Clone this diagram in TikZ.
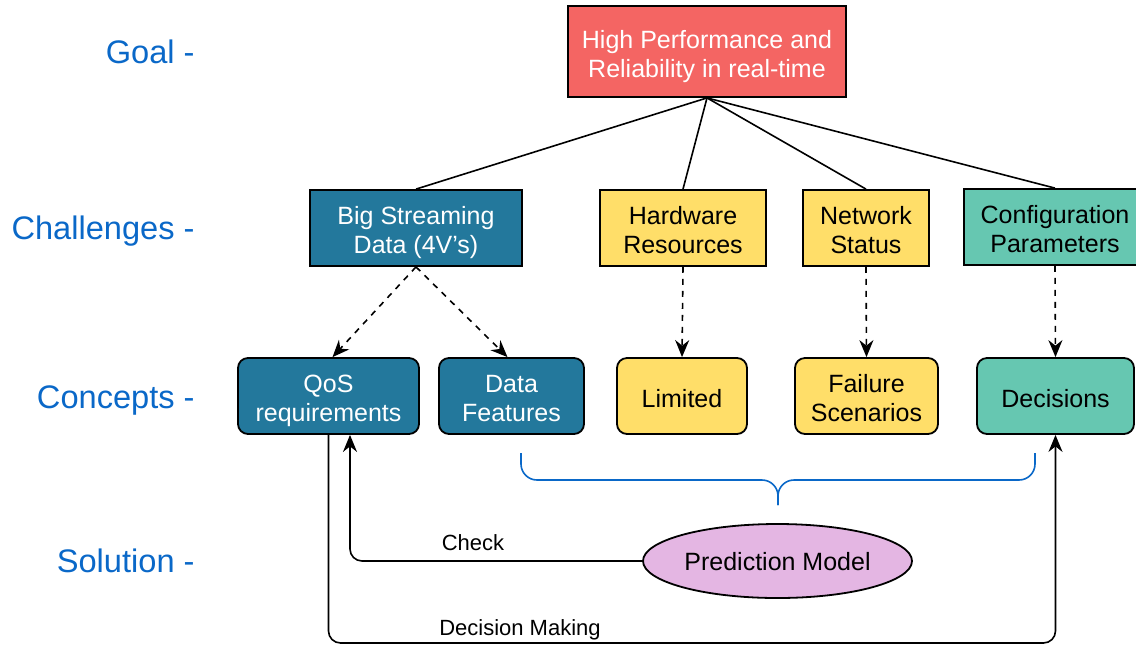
\documentclass[tikz,border=0pt]{standalone}
\usepackage{fontspec}
\setmainfont{Liberation Sans}
\usetikzlibrary{arrows.meta,shapes.geometric}

\definecolor{goalred}{HTML}{F46563}
\definecolor{bigblue}{HTML}{23789C}
\definecolor{hwyellow}{HTML}{FFDE69}
\definecolor{cfggreen}{HTML}{66C7B1}
\definecolor{predpink}{HTML}{E4B6E3}
\definecolor{lvlblue}{HTML}{0A68C8}

\tikzset{
  box/.style={draw=black, line width=0.9pt, align=center, inner sep=0pt,
    minimum height=38pt, font=\fontsize{12.5}{14.5}\selectfont,
    text height=25pt, text depth=0pt},
  oneline/.style={text height=11pt},
  concept/.style={box, rounded corners=5pt},
  level/.style={anchor=base east, inner sep=0pt, text=lvlblue, font=\fontsize{16.3}{19}\selectfont},
  dasharrow/.style={line width=0.8pt, dash pattern=on 3pt off 3pt, -{Stealth[length=8.5pt,width=7pt]}},
  solarrow/.style={line width=0.8pt, rounded corners=6pt, -{Stealth[length=8.5pt,width=7pt]}},
  edgelabel/.style={font=\fontsize{11}{13}\selectfont}
}

\begin{document}
\begin{tikzpicture}[x=0.5pt, y=-0.5pt]
		%%%%% START %%%%%
		\useasboundingbox (0, 0) rectangle (1136, 645);
		
		% level labels
		\node[level] (lgoal) at (195, 63.5) {Goal -};
		\node[level] (lchal) at (195, 239.5) {Challenges -};
		\node[level] (lconc) at (195, 408.5) {Concepts -};
		\node[level] (lsol) at (195, 572.5) {Solution -};
		
		% goal
		\node[box, fill=goalred, text=white, minimum width=139pt, minimum height=45.5pt, text height=25.5pt] (goal) at (707, 51.5) {High Performance and\\Reliability in real-time};
		
		% challenges
		\node[box, fill=bigblue, text=white, minimum width=106pt] (bsd) at (416, 228) {Big Streaming\\Data (4V's)};
		\node[box, fill=hwyellow, minimum width=83pt] (hw) at (683, 228) {Hardware\\Resources};
		\node[box, fill=hwyellow, minimum width=63pt] (net) at (866, 228) {Network\\Status};
		\node[box, fill=cfggreen, minimum width=91pt] (cfg) at (1055, 227) {Configuration\\Parameters};
		
		% concepts
		\node[concept, fill=bigblue, text=white, minimum width=90.5pt] (qos) at (328.5, 396) {QoS\\requirements};
		\node[concept, fill=bigblue, text=white, minimum width=72.5pt] (feat) at (511.5, 396) {Data\\Features};
		\node[concept, oneline, fill=hwyellow, minimum width=65pt] (lim) at (682, 396) {Limited};
		\node[concept, fill=hwyellow, minimum width=71.5pt] (fail) at (866.5, 396) {Failure\\Scenarios};
		\node[concept, oneline, fill=cfggreen, minimum width=78.5pt] (dec) at (1055.5, 396) {Decisions};
		
		% solution
		\node[box, oneline, ellipse, fill=predpink, minimum width=134.5pt, minimum height=37pt, text height=9.5pt] (pred) at (777.5, 561) {Prediction Model};
		
		% goal to challenges
		\foreach \c in {bsd, hw, net, cfg}
			\draw[line width=0.8pt] (goal.south) -- (\c.north);
		
		% challenges to concepts
		\draw[dasharrow] (bsd.south) -- ([xshift=2pt]qos.north);
		\draw[dasharrow] (bsd.south) -- ([xshift=-2pt]feat.north);
		\draw[dasharrow] (hw.south) -- (lim.north);
		\draw[dasharrow] (net.south) -- (fail.north);
		\draw[dasharrow] (cfg.south) -- (dec.north);
		
		% brace
		\coordinate (brl) at (521, 453);
		\coordinate (brr) at (1035, 453);
		\coordinate (brmid) at (778, 480);
		\coordinate (brtip) at (778, 505);
		\draw[lvlblue, line width=0.8pt, rounded corners=8pt] (brl) |- (brmid) -- (brtip);
		\draw[lvlblue, line width=0.8pt, rounded corners=8pt] (brr) |- (brmid) -- (brtip);
		
		% check and decision making
		\draw[solarrow] (pred.west) -| ([xshift=10.75pt]qos.south);
		\node[edgelabel] (lcheck) at (473, 543) {Check};
		\coordinate (dmbot) at (700, 643);
		\draw[solarrow] (qos.south) |- (dmbot) -| (dec.south);
		\node[edgelabel] (ldm) at (520, 630) {Decision Making};
		
		%%%%% END %%%%%
	\end{tikzpicture}
\end{document}
